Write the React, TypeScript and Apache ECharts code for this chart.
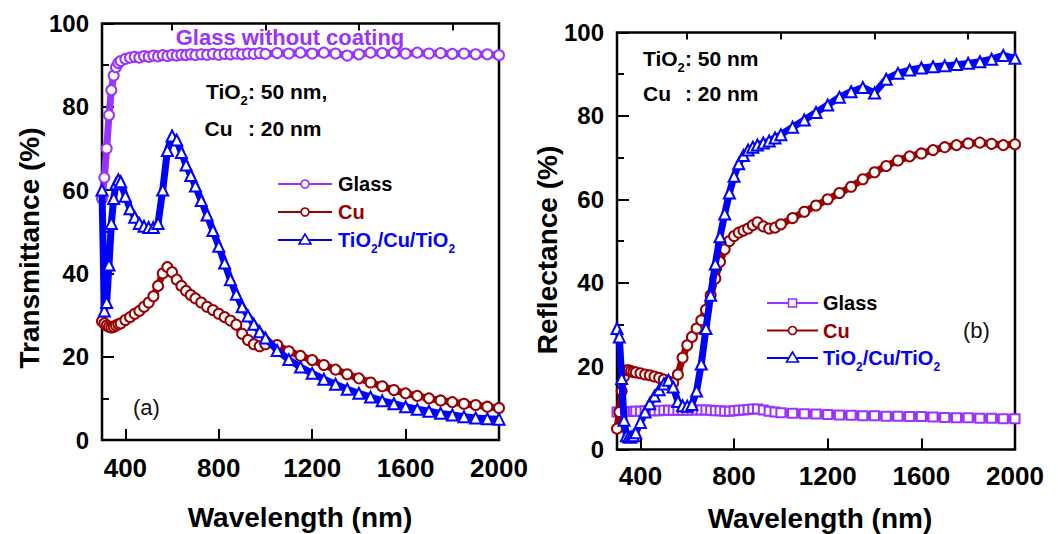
import React, { useEffect, useRef } from "react";
import * as echarts from "echarts";

// ---------- data: panel (a) transmittance ----------
const leftWl = [300, 310, 320, 330, 340, 350, 360, 370, 380, 400, 420, 440, 460, 480, 500, 520, 540, 560, 580, 600, 620, 640, 660, 680, 700, 725, 750, 775, 800, 825, 850, 875, 900, 925, 950, 975, 1000, 1050, 1100, 1150, 1200, 1250, 1300, 1350, 1400, 1450, 1500, 1550, 1600, 1650, 1700, 1750, 1800, 1850, 1900, 1950, 2000];
const glassT = [58, 63, 70, 78, 84, 87.5, 89.5, 90.5, 91, 91.5, 91.8, 92, 91.8, 92.2, 92, 92.3, 92.1, 92.4, 92.2, 92.5, 92.3, 92.5, 92.4, 92.6, 92.4, 92.6, 92.5, 92.7, 92.5, 92.7, 92.6, 92.8, 92.6, 92.8, 92.7, 92.9, 92.7, 92.9, 92.8, 93, 92.8, 93, 92.8, 92.3, 92.6, 93, 92.9, 93, 92.8, 93, 92.8, 92.9, 92.7, 92.8, 92.6, 92.6, 92.4];
const cuT = [28.5, 28, 27.5, 27.2, 27, 27.2, 27.5, 27.8, 28, 28.8, 29.5, 30.3, 31, 32, 33, 34.5, 37, 40, 41.5, 40.3, 38.5, 37, 35.8, 34.8, 34, 33, 32, 31.2, 30.3, 29.5, 28.7, 27.7, 25.5, 24, 23, 22.5, 23, 22.8, 21.3, 20.2, 19.2, 18, 16.9, 15.8, 14.8, 13.8, 12.9, 12, 11.2, 10.6, 10, 9.5, 9.1, 8.7, 8.4, 8, 7.7];
const tcT = [60, 31, 33, 42, 52, 58, 61.5, 62.5, 62, 58.5, 55.5, 53.5, 52, 51.3, 51, 51, 52, 60, 69.5, 73, 72, 69, 66, 63.5, 61, 57.5, 54, 50.3, 46.5, 42.5, 38.5, 35, 32, 29.8, 27.8, 26, 24.5, 21.5, 19.3, 17.5, 16, 14.6, 13.4, 12.2, 11.2, 10.3, 9.4, 8.7, 8, 7.4, 6.9, 6.4, 6, 5.6, 5.3, 5.1, 5];

// ---------- data: panel (b) reflectance ----------
const rightWl = [300, 310, 320, 330, 340, 350, 360, 370, 380, 400, 420, 440, 460, 480, 500, 520, 540, 560, 580, 600, 620, 640, 660, 680, 700, 720, 740, 760, 780, 800, 820, 840, 860, 880, 900, 925, 950, 975, 1000, 1050, 1100, 1150, 1200, 1250, 1300, 1350, 1400, 1450, 1500, 1550, 1600, 1650, 1700, 1750, 1800, 1850, 1900, 1950, 2000];
const glassR = [9, 9, 9, 9.1, 9.1, 9.1, 9.1, 9.2, 9.2, 9.2, 9.3, 9.3, 9.3, 9.3, 9.4, 9.4, 9.4, 9.4, 9.4, 9.4, 9.5, 9.5, 9.5, 9.5, 9.4, 9.3, 9.3, 9.2, 9.2, 9.3, 9.4, 9.5, 9.6, 9.7, 9.7, 9.5, 9.2, 9, 8.8, 8.7, 8.6, 8.5, 8.4, 8.3, 8.2, 8.1, 8.1, 8, 8, 7.9, 7.9, 7.8, 7.7, 7.6, 7.6, 7.5, 7.5, 7.4, 7.4];
const cuR = [5, 9, 14, 17.5, 19, 19, 18.8, 18.6, 18.5, 18.3, 18, 17.8, 17.5, 17.2, 16.8, 16.3, 16, 18, 22, 25, 27, 29, 31, 33.5, 37, 41, 45, 48, 50, 51.2, 52, 52.5, 53, 53.8, 54.5, 53.5, 53, 53.2, 54, 55.5, 57, 58.5, 60, 61.5, 63, 64.8, 66.5, 68, 69.3, 70.3, 71, 71.8, 72.5, 73, 73.4, 73.6, 73.3, 73, 73.2];
const tcR = [29, 27, 17, 7, 3.3, 3, 3, 3.3, 4, 6.5, 9, 11, 12.8, 14.3, 15.7, 16.6, 15, 11.5, 10.5, 10.4, 10.8, 14, 20.5, 29, 37, 44.5, 51, 56.5, 61.5, 65.5, 68.5, 70.5, 71.8, 72.5, 73, 73.5, 74, 74.7, 75.5, 77.3, 79, 80.8, 82.6, 84.5, 85.8, 86.8, 85.5, 88.8, 90.2, 91, 91.5, 91.8, 92, 92.3, 92.6, 93, 93.6, 94.5, 93.8];

// ---------- ticks ----------
const xMajorTicks = [400, 800, 1200, 1600, 2000];
const xMinorTicks = [600, 1000, 1400, 1800];

const VIOLET = "#9933ff";
const CU = "#990000";
const BLUE = "#0000ff";
const FONT = '"Liberation Sans", Arial, Helvetica, sans-serif';

const zip = (xs: number[], ys: number[]) => xs.map((x, i) => [x, ys[i]]);

let measureCtx: CanvasRenderingContext2D | null = null;
function tw(text: string, size: number, weight: string) {
  if (!measureCtx) measureCtx = document.createElement("canvas").getContext("2d");
  if (!measureCtx) return text.length * size * 0.55;
  measureCtx.font = `${weight} ${size}px "Liberation Sans"`;
  return measureCtx.measureText(text).width;
}

function richRow(x0: number, y: number, parts: [string, boolean][], size: number, color: string, weight = "bold") {
  const els: any[] = [];
  let x = x0;
  const sub = Math.round(size * 0.6);
  for (const [t, isSub] of parts) {
    const s = isSub ? sub : size;
    els.push({
      type: "text", x, y: isSub ? y + size * 0.45 : y, silent: true,
      style: { text: t, fontSize: s, fontWeight: weight, fontFamily: FONT, fill: color, align: "left", verticalAlign: "middle" },
    });
    x += tw(t, s, weight);
  }
  return els;
}

function plainText(x: number, y: number, text: string, size: number, color: string, align = "left", weight = "bold", rotation = 0) {
  return {
    type: "text", x, y, rotation, silent: true,
    style: { text, fontSize: size, fontWeight: weight, fontFamily: FONT, fill: color, align, verticalAlign: "middle" },
  };
}

function marker(kind: string, cx: number, cy: number, color: string) {
  const style = { fill: "#fff", stroke: color, lineWidth: 1.6 };
  if (kind === "circle") return { type: "circle", shape: { cx, cy, r: 4 }, style, silent: true };
  if (kind === "rect") return { type: "rect", shape: { x: cx - 4, y: cy - 4, width: 8, height: 8 }, style, silent: true };
  return { type: "polygon", shape: { points: [[cx, cy - 6], [cx - 6, cy + 4], [cx + 6, cy + 4]] }, style, silent: true };
}

function legendRow(x1: number, x2: number, y: number, kind: string, color: string, textParts: [string, boolean][], textColor: string, tx: number) {
  return [
    { type: "line", shape: { x1, y1: y, x2, y2: y }, style: { stroke: color, lineWidth: 2 }, silent: true },
    marker(kind, (x1 + x2) / 2, y, color),
    ...richRow(tx, y, textParts, 20, textColor),
  ];
}

function xAxes(gridIndex: number, margin: number) {
  return [
    {
      type: "value", gridIndex, min: 300, max: 2000, interval: 100,
      axisLine: { show: false }, splitLine: { show: false },
      axisTick: { show: true, inside: true, length: 11, customValues: xMajorTicks, lineStyle: { color: "#000", width: 2 } },
      axisLabel: { show: true, customValues: xMajorTicks, fontSize: 26, fontWeight: "bold", color: "#000", fontFamily: FONT, margin,
        formatter: (v: number) => (v % 400 === 0 ? String(v) : "") },
    },
    {
      type: "value", gridIndex, min: 300, max: 2000, interval: 100,
      axisLine: { show: false }, splitLine: { show: false },
      axisTick: { show: true, inside: true, length: 7, customValues: xMinorTicks, lineStyle: { color: "#000", width: 2 } },
      axisLabel: { show: false },
    },
  ];
}

function yAxis(gridIndex: number) {
  return {
    type: "value", gridIndex, min: 0, max: 100, interval: 20,
    axisLine: { show: false }, splitLine: { show: false },
    axisTick: { show: true, inside: true, length: 12, lineStyle: { color: "#000", width: 2 } },
    minorTick: { show: true, splitNumber: 2, length: 7, lineStyle: { color: "#000", width: 2 } },
    minorSplitLine: { show: false },
    axisLabel: { fontSize: 24, fontWeight: "bold", color: "#000", fontFamily: FONT, margin: 13 },
  };
}

function series(axis: number, xs: number[], ys: number[], color: string, symbol: string, size: number, z: number, width: number) {
  return {
    type: "line", xAxisIndex: axis * 2, yAxisIndex: axis, data: zip(xs, ys),
    symbol, symbolSize: size, showAllSymbol: true, z,
    lineStyle: { color, width },
    itemStyle: { color, borderWidth: 2 },
    emphasis: { disabled: true }, silent: true,
  };
}

export default function App() {
  const ref = useRef<HTMLDivElement>(null);
  useEffect(() => {
    if (!ref.current) return;
    const chart = echarts.init(ref.current, null, { renderer: "svg" });
    const graphics: any[] = [
      // panel (a) texts
      plainText(290, 37, "Glass without coating", 22, VIOLET, "center"),
      ...richRow(206, 91, [["TiO", false], ["2", true]], 21, "#000"),
      plainText(248, 91, ": 50 nm,", 21, "#000"),
      plainText(204.5, 128.5, "Cu", 21, "#000"),
      plainText(248, 128.5, ": 20 nm", 21, "#000"),
      plainText(133, 407, "(a)", 22, "#111", "left", "normal"),
      ...legendRow(278, 332, 184, "circle", VIOLET, [["Glass", false]], "#000", 338),
      ...legendRow(278, 332, 212, "circle", CU, [["Cu", false]], CU, 338),
      ...legendRow(278, 332, 240, "triangle", BLUE, [["TiO", false], ["2", true], ["/Cu/TiO", false], ["2", true]], BLUE, 338),
      plainText(29, 248, "Transmittance (%)", 28, "#000", "center", "bold", Math.PI / 2),
      plainText(300, 517, "Wavelength (nm)", 28, "#000", "center"),
      // panel (b) texts
      ...richRow(643, 58, [["TiO", false], ["2", true]], 21, "#000"),
      plainText(685, 58, ": 50 nm", 21, "#000"),
      plainText(643, 93, "Cu", 21, "#000"),
      plainText(685, 93, ": 20 nm", 21, "#000"),
      plainText(963, 330, "(b)", 22, "#111", "left", "normal"),
      ...legendRow(767, 818, 303, "rect", VIOLET, [["Glass", false]], "#000", 823),
      ...legendRow(767, 818, 330.5, "circle", CU, [["Cu", false]], CU, 823),
      ...legendRow(767, 818, 358, "triangle", BLUE, [["TiO", false], ["2", true], ["/Cu/TiO", false], ["2", true]], BLUE, 823),
      plainText(547.5, 250, "Reflectance (%)", 28, "#000", "center", "bold", Math.PI / 2),
      plainText(820, 518, "Wavelength (nm)", 28, "#000", "center"),
    ];
    chart.setOption({
      animation: false,
      backgroundColor: "#fff",
      textStyle: { fontFamily: FONT },
      grid: [
        { left: 102, top: 23.5, width: 397, height: 416.5, show: true, borderColor: "#000", borderWidth: 2.5, backgroundColor: "transparent", containLabel: false, outerBoundsMode: "none" },
        { left: 617, top: 32.5, width: 398, height: 417, show: true, borderColor: "#000", borderWidth: 2.5, backgroundColor: "transparent", containLabel: false, outerBoundsMode: "none" },
      ],
      xAxis: [...xAxes(0, 15), ...xAxes(1, 13)],
      yAxis: [yAxis(0), yAxis(1)],
      series: [
        series(0, leftWl, glassT, VIOLET, "emptyCircle", 10, 2, 7),
        series(0, leftWl, cuT, CU, "emptyCircle", 10, 3, 7),
        series(0, leftWl, tcT, BLUE, "emptyTriangle", 11, 4, 7),
        series(1, rightWl, glassR, VIOLET, "emptyRect", 9, 2, 9),
        series(1, rightWl, cuR, CU, "emptyCircle", 10, 3, 7),
        series(1, rightWl, tcR, BLUE, "emptyTriangle", 11, 4, 7),
      ],
      graphic: { elements: graphics },
    });
    return () => chart.dispose();
  }, []);
  return <div ref={ref} style={{ position: "absolute", left: 0, top: 0, width: 1058, height: 534, background: "#fff" }} />;
}
